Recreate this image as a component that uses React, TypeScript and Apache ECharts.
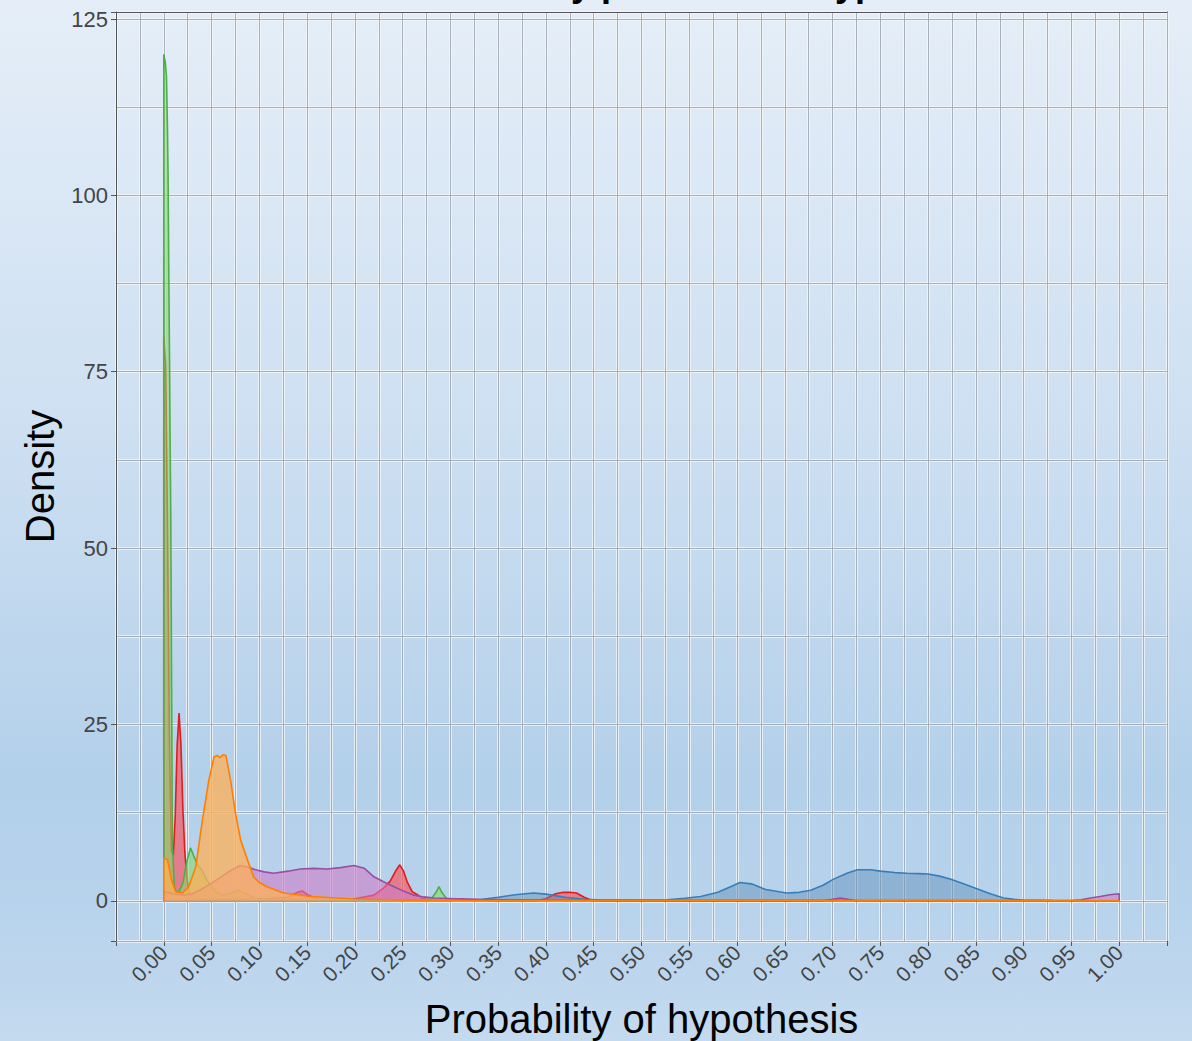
import React, { useEffect, useRef } from "react";
import * as echarts from "echarts";

// ---- Data ----
const xTickLabels = ["0.00","0.05","0.10","0.15","0.20","0.25","0.30","0.35","0.40","0.45","0.50","0.55","0.60","0.65","0.70","0.75","0.80","0.85","0.90","0.95","1.00"];
const yTickLabels = ["0", "25", "50", "75", "100", "125"];

const seriesNames = ["Red", "Blue", "Green", "Purple", "Orange"];
const lineColors = ["#E41A1C", "#377EB8", "#4DAF4A", "#984EA3", "#FF7F00"];
const fillColors = ["rgba(255,70,75,0.6)", "rgba(90,140,185,0.45)", "rgba(140,215,110,0.6)", "rgba(205,125,200,0.6)", "rgba(255,175,85,0.75)"];

const redX = [0, 0, 0.002, 0.004, 0.006, 0.008, 0.010, 0.012, 0.014, 0.016, 0.018, 0.020, 0.022, 0.024, 0.026, 0.030, 0.040, 0.060, 0.100, 0.130, 0.140, 0.145, 0.150, 0.160, 0.180, 0.200, 0.220, 0.230, 0.237, 0.243, 0.247, 0.251, 0.255, 0.260, 0.265, 0.270, 0.280, 0.300, 0.310, 0.320, 0.350, 0.390, 0.400, 0.410, 0.418, 0.425, 0.432, 0.440, 0.447, 0.460, 0.600, 0.700, 0.710, 0.720, 0.800, 1.000, 1.000];
const redY = [0, 80, 76, 52, 22, 7, 6.5, 12, 22, 26.6, 22, 13, 7, 3.5, 1.5, 0.4, 0.2, 0.2, 0.2, 0.5, 1.2, 1.4, 0.9, 0.3, 0.2, 0.3, 0.8, 1.8, 2.8, 4.3, 5.1, 4.2, 2.6, 1.3, 0.9, 0.4, 0.1, 0.1, 0.3, 0.1, 0.05, 0.05, 0.3, 1.0, 1.2, 1.2, 1.1, 0.5, 0.1, 0.02, 0.02, 0.05, 0.3, 0.05, 0.01, 0, 0];

const blueX = [0, 0.1, 0.2, 0.3, 0.33, 0.35, 0.37, 0.387, 0.40, 0.42, 0.44, 0.46, 0.50, 0.527, 0.545, 0.562, 0.58, 0.595, 0.603, 0.615, 0.63, 0.652, 0.665, 0.677, 0.69, 0.70, 0.715, 0.726, 0.74, 0.75, 0.765, 0.778, 0.79, 0.80, 0.812, 0.823, 0.837, 0.851, 0.865, 0.879, 0.89, 0.9, 0.93, 1.0];
const blueY = [0.05, 0.05, 0.05, 0.05, 0.15, 0.5, 0.9, 1.1, 0.95, 0.5, 0.2, 0.1, 0.1, 0.15, 0.35, 0.6, 1.2, 2.1, 2.6, 2.4, 1.6, 1.1, 1.2, 1.5, 2.2, 3.0, 3.9, 4.4, 4.4, 4.2, 4.0, 3.9, 3.85, 3.8, 3.5, 3.1, 2.4, 1.7, 1.0, 0.4, 0.2, 0.1, 0.02, 0];

const greenX = [0, 0, 0.0015, 0.0028, 0.0038, 0.0045, 0.0052, 0.006, 0.0066, 0.0073, 0.0082, 0.009, 0.011, 0.013, 0.016, 0.02, 0.024, 0.028, 0.031, 0.035, 0.04, 0.045, 0.05, 0.055, 0.062, 0.07, 0.078, 0.086, 0.095, 0.11, 0.15, 0.27, 0.28, 0.285, 0.288, 0.291, 0.296, 0.31, 0.5, 1.0];
const greenY = [0, 120, 119, 117, 110, 103, 90, 77, 66, 55, 30, 8, 2, 1.3, 1.3, 2.5, 5.5, 7.5, 6.5, 5.2, 4.3, 3.0, 2.0, 1.2, 0.8, 1.1, 1.5, 1.0, 0.4, 0.2, 0.1, 0.1, 0.3, 1.2, 2.0, 1.2, 0.3, 0.05, 0.02, 0];

const purpleX = [0, 0, 0.01, 0.02, 0.03, 0.039, 0.05, 0.06, 0.07, 0.08, 0.088, 0.096, 0.105, 0.115, 0.13, 0.143, 0.157, 0.171, 0.185, 0.199, 0.21, 0.22, 0.23, 0.241, 0.252, 0.262, 0.272, 0.283, 0.307, 0.33, 0.4, 0.5, 0.69, 0.7, 0.708, 0.716, 0.725, 0.95, 0.96, 0.97, 0.98, 0.99, 1.0, 1.0];
const purpleY = [0, 1.3, 1.0, 0.8, 1.0, 1.6, 2.5, 3.4, 4.3, 5.0, 4.8, 4.4, 4.1, 3.9, 4.2, 4.5, 4.6, 4.5, 4.7, 5.0, 4.6, 3.4, 2.7, 2.0, 1.3, 0.8, 0.55, 0.4, 0.3, 0.2, 0.1, 0.05, 0.05, 0.2, 0.4, 0.2, 0.05, 0.05, 0.15, 0.4, 0.6, 0.85, 1.0, 0];

const orangeX = [0, 0, 0.004, 0.008, 0.0125, 0.0196, 0.026, 0.0335, 0.04, 0.047, 0.0526, 0.056, 0.0586, 0.062, 0.065, 0.068, 0.070, 0.075, 0.0805, 0.0876, 0.094, 0.1, 0.108, 0.1255, 0.154, 0.2, 0.25, 0.3, 1.0, 1.0];
const orangeY = [0, 6.1, 5.8, 3, 1.3, 1.1, 2.0, 4.8, 11, 17, 20.4, 20.6, 20.3, 20.7, 20.6, 18.5, 17, 12.5, 8.6, 5.8, 3.4, 2.6, 2.0, 1.1, 0.6, 0.25, 0.1, 0.05, 0.02, 0];

const allX = [redX, blueX, greenX, purpleX, orangeX];
const allY = [redY, blueY, greenY, purpleY, orangeY];

const titleText = "Posterior density plot of each hypothesis";
const xAxisTitle = "Probability of hypothesis";
const yAxisTitle = "Density";

const FONT = "'Liberation Sans', Arial, Helvetica, sans-serif";
const Y_MIN = -5.7;
const Y_MAX = 126;

export default function App() {
  const ref = useRef<HTMLDivElement>(null);
  useEffect(() => {
    if (!ref.current) return;
    const chart = echarts.init(ref.current, null, { renderer: "svg" });

    const whiteLine = { color: "rgba(246,248,250,0.95)", width: 2.5 };
    const greyLine = { color: "#a7afb8", width: 1 };
    const border = { show: true, onZero: false, lineStyle: { color: "#555", width: 1 } };

    const series = seriesNames.map((name, i) => ({
      name,
      type: "line",
      xAxisIndex: 0,
      yAxisIndex: 0,
      data: allX[i].map((x, j) => [x, allY[i][j]]),
      symbol: "none",
      smooth: false,
      lineStyle: { color: lineColors[i], width: 1.6 },
      itemStyle: { color: lineColors[i] },
      areaStyle: { color: fillColors[i], opacity: 1, origin: 0 },
      z: 2 + i,
    }));

    chart.setOption({
      animation: false,
      backgroundColor: "transparent",
      textStyle: { fontFamily: FONT },
      graphic: [
        {
          type: "text",
          x: 650,
          y: 1,
          silent: true,
          style: {
            text: titleText,
            fill: "#000",
            fontSize: 36,
            fontWeight: "bold",
            fontFamily: FONT,
            align: "center",
            verticalAlign: "bottom",
            textAlign: "center",
            textVerticalAlign: "bottom",
          },
        },
      ],
      grid: { left: 116, right: 25, top: 12, bottom: 100, containLabel: false, outerBoundsMode: "none" },
      xAxis: [
        {
          type: "value",
          min: -0.05,
          max: 1.05,
          interval: 0.05,
          z: 0,
          name: xAxisTitle,
          nameLocation: "middle",
          nameGap: 58,
          nameTextStyle: { fontSize: 40, color: "#000", fontFamily: FONT },
          axisLine: border,
          axisTick: { show: true, length: 5, lineStyle: { color: "#555" } },
          axisLabel: {
            rotate: 45,
            fontSize: 21,
            color: "#444",
            margin: 8,
            fontFamily: FONT,
            formatter: (v: number) => {
              const s = v.toFixed(2);
              return xTickLabels.indexOf(s) >= 0 ? s : "";
            },
          },
          splitLine: { show: true, lineStyle: whiteLine },
          minorTick: { show: false, splitNumber: 2 },
          minorSplitLine: { show: true, lineStyle: whiteLine },
        },
        {
          type: "value",
          position: "top",
          min: -0.05,
          max: 1.05,
          interval: 0.05,
          z: 1,
          axisLine: border,
          axisTick: { show: false },
          axisLabel: { show: false },
          splitLine: { show: true, lineStyle: greyLine },
          minorTick: { show: false, splitNumber: 2 },
          minorSplitLine: { show: true, lineStyle: greyLine },
        },
      ],
      yAxis: [
        {
          type: "value",
          min: Y_MIN,
          max: Y_MAX,
          minInterval: 25,
          maxInterval: 25,
          z: 2,
          name: yAxisTitle,
          nameLocation: "middle",
          nameRotate: 90,
          nameGap: 54,
          nameTextStyle: { fontSize: 40, color: "#000", fontFamily: FONT },
          axisLine: border,
          axisTick: { show: true, length: 5, lineStyle: { color: "#555" } },
          axisLabel: {
            fontSize: 22,
            color: "#444",
            margin: 8,
            fontFamily: FONT,
            formatter: (v: number) => {
              const s = String(Math.round(v));
              return Math.abs(v - Math.round(v)) < 1e-6 && yTickLabels.indexOf(s) >= 0 ? s : "";
            },
          },
          splitLine: { show: false },
        },
        {
          type: "value",
          position: "right",
          min: Y_MIN,
          max: Y_MAX,
          minInterval: 12.5,
          maxInterval: 12.5,
          z: 0,
          axisLine: border,
          axisTick: { show: false },
          axisLabel: { show: false },
          splitLine: { show: true, lineStyle: whiteLine },
        },
        {
          type: "value",
          position: "right",
          offset: 0,
          min: Y_MIN,
          max: Y_MAX,
          minInterval: 12.5,
          maxInterval: 12.5,
          z: 1,
          axisLine: { show: false },
          axisTick: { show: false },
          axisLabel: { show: false },
          splitLine: { show: true, lineStyle: greyLine },
        },
      ],
      series,
    });

    return () => chart.dispose();
  }, []);

  return (
    <div
      style={{
        position: "absolute",
        left: 0,
        top: 0,
        width: 1192,
        height: 1041,
        background: "linear-gradient(180deg, #e5eef8 0%, #cbdef1 45%, #b3d0ea 75%, #b8d3ec 88%, #c4daef 100%)",
      }}
    >
      <div ref={ref} style={{ width: 1192, height: 1041 }} />
    </div>
  );
}
